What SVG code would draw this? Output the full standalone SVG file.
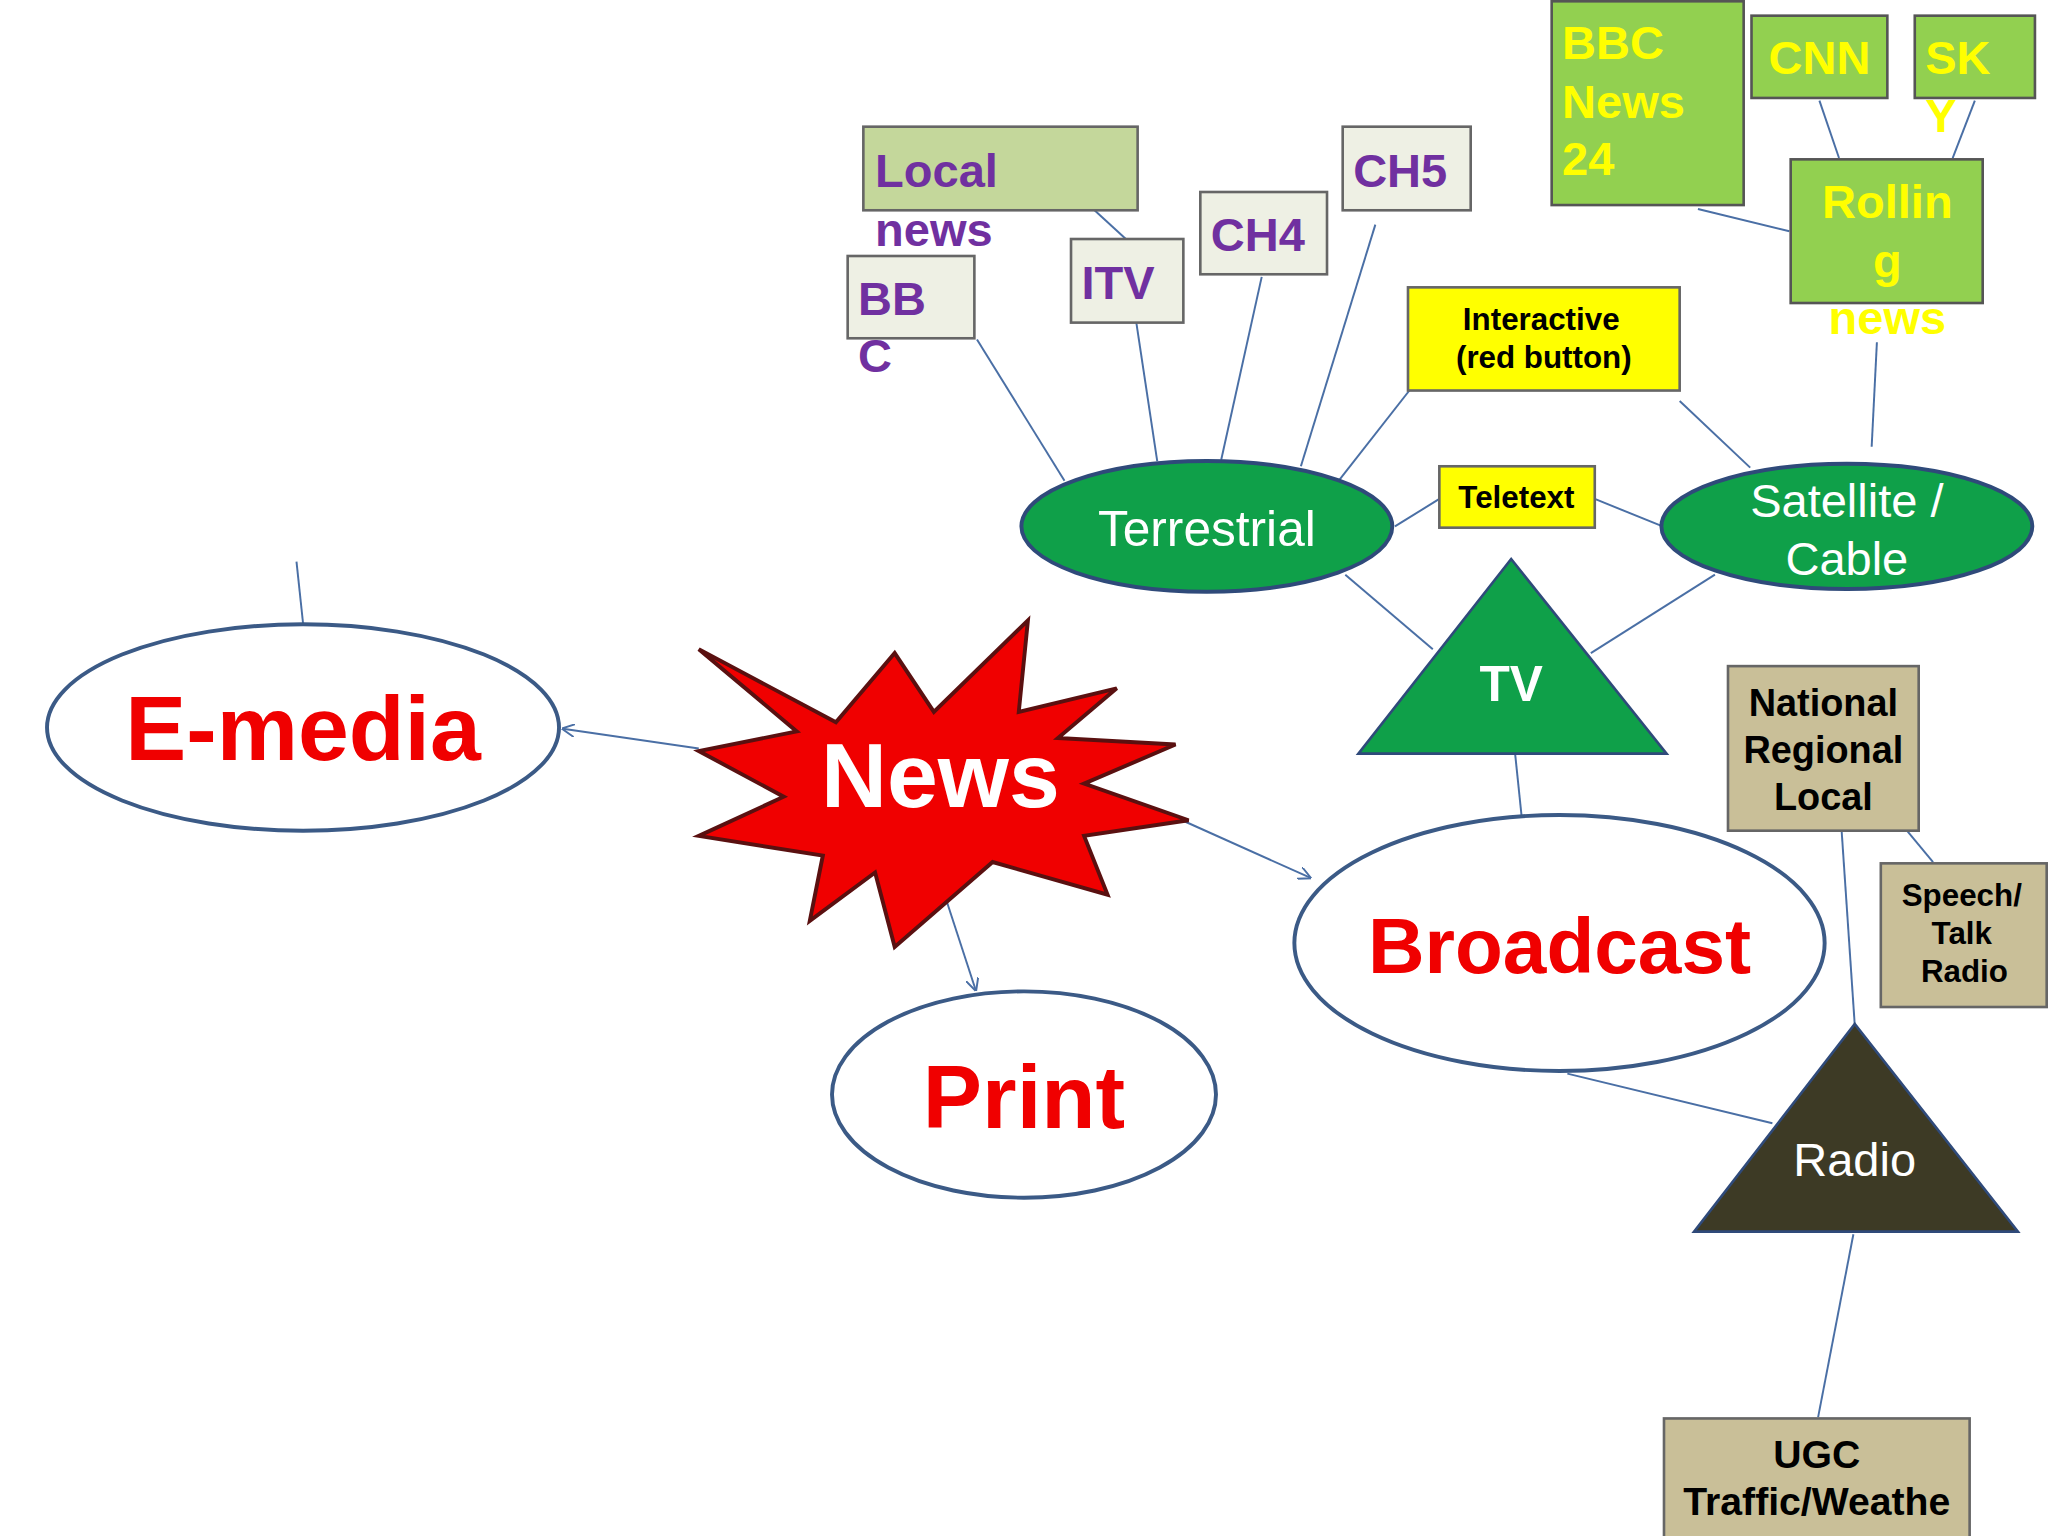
<svg xmlns="http://www.w3.org/2000/svg" width="2048" height="1536" viewBox="0 0 2048 1536">
<defs>
<marker id="ar" viewBox="0 0 10 10" refX="9" refY="5" markerWidth="10" markerHeight="10" orient="auto" markerUnits="userSpaceOnUse"><path d="M0,0 L10,5 L0,10" fill="none" stroke="#4a6fa5" stroke-width="1.5"/></marker>
</defs>
<style>
.ln{stroke:#4a6fa5;stroke-width:1.5;fill:none}
.wel{fill:#fff;stroke:#3b5a86;stroke-width:3}
.gel{fill:#0fa049;stroke:#2f4a7a;stroke-width:3}
.t{font-family:"Liberation Sans",Arial,sans-serif;font-weight:bold}
.red{fill:#f00000}
.pur{fill:#7030a0}
.yel{fill:#ffff00}
.gb{fill:#eef0e4;stroke:#666;stroke-width:2}
.grb{fill:#92d050;stroke:#555;stroke-width:2}
.tb{fill:#c9bf98;stroke:#666;stroke-width:2}
.yb{fill:#ffff00;stroke:#666;stroke-width:2}
</style>
<rect width="2048" height="1536" fill="#fff"/>
<g transform="scale(1.30612)">
<g id="connectors">
<line class="ln" x1="227" y1="430" x2="232" y2="477"/>
<line class="ln" x1="535" y1="573" x2="431" y2="558" marker-end="url(#ar)"/>
<line class="ln" x1="905" y1="628" x2="1003" y2="672" marker-end="url(#ar)"/>
<line class="ln" x1="715" y1="660" x2="747" y2="758" marker-end="url(#ar)"/>
<line class="ln" x1="1160" y1="577" x2="1165" y2="625"/>
<line class="ln" x1="1030" y1="440" x2="1097" y2="497"/>
<line class="ln" x1="1313" y1="440" x2="1218" y2="500"/>
<line class="ln" x1="1068" y1="403" x2="1102" y2="382"/>
<line class="ln" x1="1221" y1="382" x2="1273" y2="403"/>
<line class="ln" x1="1025" y1="368" x2="1090" y2="285"/>
<line class="ln" x1="1286" y1="307" x2="1340" y2="358"/>
<line class="ln" x1="748" y1="260" x2="815" y2="368"/>
<line class="ln" x1="870" y1="247" x2="886" y2="353"/>
<line class="ln" x1="966" y1="212" x2="935" y2="352"/>
<line class="ln" x1="1053" y1="172" x2="996" y2="357"/>
<line class="ln" x1="838" y1="161" x2="862" y2="183"/>
<line class="ln" x1="1300" y1="160" x2="1370" y2="177"/>
<line class="ln" x1="1393" y1="77" x2="1408" y2="121"/>
<line class="ln" x1="1512" y1="77" x2="1495" y2="121"/>
<line class="ln" x1="1437" y1="262" x2="1433" y2="342"/>
<line class="ln" x1="1460" y1="636" x2="1480" y2="660"/>
<line class="ln" x1="1410" y1="636" x2="1420" y2="784"/>
<line class="ln" x1="1200" y1="822" x2="1357" y2="860"/>
<line class="ln" x1="1419" y1="945" x2="1392" y2="1085"/>
</g>
<g id="emedia"><ellipse class="wel" cx="232" cy="557" rx="196" ry="79"/><text class="t red" x="232" y="582" font-size="70" text-anchor="middle">E-media</text></g>
<g id="news"><polygon points="535,497 640,553 685,500 715,545 787,475 780,545 855,527 810,565 900,570 830,600 910,628 830,640 848,685 760,660 685,725 670,668 620,705 630,655 535,640 600,610 535,575 610,560" fill="#f00000" stroke="#5a1010" stroke-width="3"/><text class="t" x="720" y="618" font-size="70" text-anchor="middle" fill="#fff">News</text></g>
<g id="print"><ellipse class="wel" cx="784" cy="838" rx="147" ry="79"/><text class="t red" x="784" y="864" font-size="68" text-anchor="middle">Print</text></g>
<g id="broadcast"><ellipse class="wel" cx="1194" cy="722" rx="203" ry="98"/><text class="t red" x="1194" y="745" font-size="60" text-anchor="middle">Broadcast</text></g>
<g id="tv"><polygon points="1157,428 1040,577 1276,577" fill="#0fa049" stroke="#2f4a7a" stroke-width="2"/><text class="t" x="1157" y="537" font-size="38" text-anchor="middle" fill="#fff">TV</text></g>
<g id="terrestrial"><ellipse class="gel" cx="924" cy="403" rx="142" ry="50"/><text x="924" y="418" font-size="38" text-anchor="middle" fill="#fff" font-family="Liberation Sans,Arial,sans-serif">Terrestrial</text></g>
<g id="satellite"><ellipse class="gel" cx="1414" cy="403" rx="142" ry="48"/><text x="1414" y="396" font-size="36" text-anchor="middle" fill="#fff" font-family="Liberation Sans,Arial,sans-serif">Satellite /</text><text x="1414" y="440" font-size="36" text-anchor="middle" fill="#fff" font-family="Liberation Sans,Arial,sans-serif">Cable</text></g>
<g id="teletext"><rect class="yb" x="1102" y="357" width="119" height="47"/><text class="t" x="1161" y="389" font-size="24" text-anchor="middle">Teletext</text></g>
<g id="interactive"><rect class="yb" x="1078" y="220" width="208" height="79"/><text class="t" x="1180" y="253" font-size="24" text-anchor="middle">Interactive</text><text class="t" x="1182" y="282" font-size="24" text-anchor="middle">(red button)</text></g>
<g id="bbc"><rect class="gb" x="649" y="196" width="97" height="63"/><text class="t pur" x="657" y="241" font-size="36">BB</text><text class="t pur" x="657" y="285" font-size="36">C</text></g>
<g id="itv"><rect class="gb" x="820" y="183" width="86" height="64"/><text class="t pur" x="828" y="229" font-size="36">ITV</text></g>
<g id="ch4"><rect class="gb" x="919" y="147" width="97" height="63"/><text class="t pur" x="927" y="192" font-size="36">CH4</text></g>
<g id="ch5"><rect class="gb" x="1028" y="97" width="98" height="64"/><text class="t pur" x="1036" y="143" font-size="36">CH5</text></g>
<g id="localnews"><rect x="661" y="97" width="210" height="64" fill="#c4d79b" stroke="#666" stroke-width="2"/><text class="t pur" x="670" y="143" font-size="36">Local</text><text class="t pur" x="670" y="188" font-size="36">news</text></g>
<g id="bbcnews24"><rect class="grb" x="1188" y="1" width="147" height="156"/><text class="t yel" x="1196" y="45" font-size="36">BBC</text><text class="t yel" x="1196" y="90" font-size="36">News</text><text class="t yel" x="1196" y="134" font-size="36">24</text></g>
<g id="cnn"><rect class="grb" x="1341" y="12" width="104" height="63"/><text class="t yel" x="1393" y="57" font-size="36" text-anchor="middle">CNN</text></g>
<g id="sky"><rect class="grb" x="1466" y="12" width="92" height="63"/><text class="t yel" x="1474" y="57" font-size="36">SK</text><text class="t yel" x="1474" y="101" font-size="36">Y</text></g>
<g id="rolling"><rect class="grb" x="1371" y="122" width="147" height="110"/><text class="t yel" x="1445" y="167" font-size="36" text-anchor="middle">Rollin</text><text class="t yel" x="1445" y="212" font-size="36" text-anchor="middle">g</text><text class="t yel" x="1445" y="256" font-size="36" text-anchor="middle">news</text></g>
<g id="national"><rect class="tb" x="1323" y="510" width="146" height="126"/><text class="t" x="1396" y="548" font-size="29" text-anchor="middle">National</text><text class="t" x="1396" y="584" font-size="29" text-anchor="middle">Regional</text><text class="t" x="1396" y="620" font-size="29" text-anchor="middle">Local</text></g>
<g id="speech"><rect class="tb" x="1440" y="661" width="127" height="110"/><text class="t" x="1502" y="694" font-size="24" text-anchor="middle">Speech/</text><text class="t" x="1502" y="723" font-size="24" text-anchor="middle">Talk</text><text class="t" x="1504" y="752" font-size="24" text-anchor="middle">Radio</text></g>
<g id="radio"><polygon points="1420,784 1297,943 1545,943" fill="#3d3a25" stroke="#2f4a7a" stroke-width="2"/><text x="1420" y="900" font-size="36" text-anchor="middle" fill="#fff" font-family="Liberation Sans,Arial,sans-serif">Radio</text></g>
<g id="ugc"><rect class="tb" x="1274" y="1086" width="234" height="95"/><text class="t" x="1391" y="1124" font-size="30" text-anchor="middle">UGC</text><text class="t" x="1391" y="1160" font-size="30" text-anchor="middle">Traffic/Weathe</text></g>
</g>
</svg>
